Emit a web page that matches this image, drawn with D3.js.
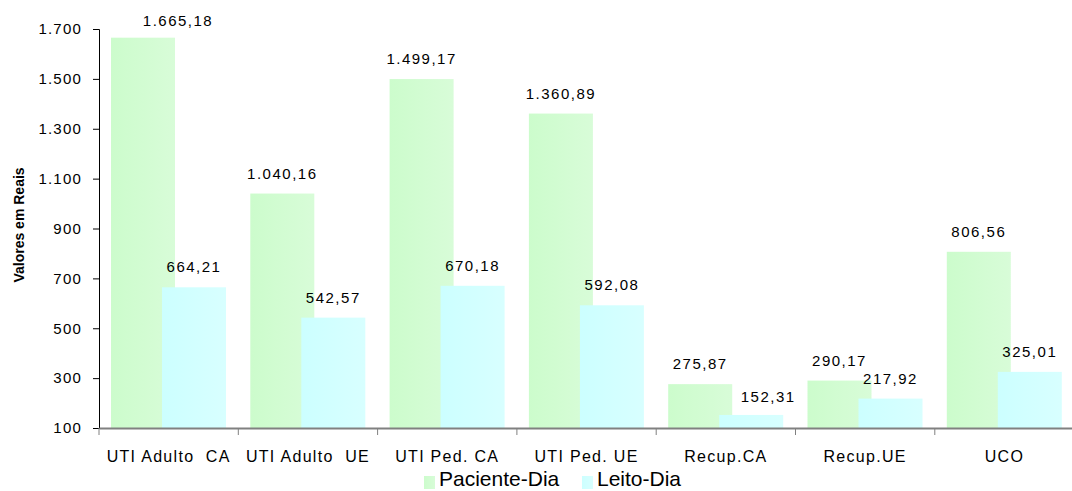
<!DOCTYPE html>
<html lang="pt">
<head>
    <meta charset="UTF-8">
    <title></title>
    <style>
        body { margin: 0; background: #fff; }
        text { font-family: "Liberation Sans", Arial, sans-serif; fill: #000; }
    </style>
</head>
<body>
<script src="https://cdn.jsdelivr.net/npm/d3@7/dist/d3.min.js"></script>
<script>
    var categories = ['UTI Adulto  CA', 'UTI Adulto  UE', 'UTI Ped. CA', 'UTI Ped. UE', 'Recup.CA', 'Recup.UE', 'UCO'];
    var pacienteDia = [1665.18, 1040.16, 1499.17, 1360.89, 275.87, 290.17, 806.56];
    var leitoDia = [664.21, 542.57, 670.18, 592.08, 152.31, 217.92, 325.01];
    var seriesNames = ['Paciente-Dia', 'Leito-Dia'];
    var yTicks = [100, 300, 500, 700, 900, 1100, 1300, 1500, 1700];

    var W = 1072, H = 491;
    var plotLeft = 99, plotTop = 29, plotBottom = 428;
    var band = 139.3;

    var br = d3.formatLocale({decimal: ',', thousands: '.', grouping: [3], currency: ['R$', '']});
    var fmtVal = br.format(',.2f');
    var fmtTick = br.format(',d');

    var svg = d3.select('body').append('svg')
            .attr('width', W)
            .attr('height', H);

    var defs = svg.append('defs');
    function grad(id, c0, c1) {
        var g = defs.append('linearGradient').attr('id', id)
                .attr('x1', '0%').attr('x2', '100%').attr('y1', '0%').attr('y2', '0%');
        g.append('stop').attr('offset', '0%').attr('stop-color', c0);
        g.append('stop').attr('offset', '100%').attr('stop-color', c1);
    }
    grad('gGreen', '#ccfccc', '#d8fcd8');
    grad('gCyan', '#ccffff', '#d8ffff');

    var x = d3.scaleBand().domain(categories).range([plotLeft, plotLeft + band * categories.length]);
    var y = d3.scaleLinear().domain([100, 1700]).range([plotBottom, plotTop]);

    var bw = x.bandwidth();
    var barW = bw * 64 / 139.3;
    var offG = bw * 12 / 139.3;
    var offC = bw * 63 / 139.3;

    // bars: green first, cyan on top (they overlap a bit)
    svg.append('g').selectAll('rect')
            .data(pacienteDia)
            .enter().append('rect')
            .attr('x', function (d, i) { return x(categories[i]) + offG; })
            .attr('y', function (d) { return y(d); })
            .attr('width', barW)
            .attr('height', function (d) { return y(100) - y(d); })
            .attr('fill', 'url(#gGreen)');

    svg.append('g').selectAll('rect')
            .data(leitoDia)
            .enter().append('rect')
            .attr('x', function (d, i) { return x(categories[i]) + offC; })
            .attr('y', function (d) { return y(d); })
            .attr('width', barW)
            .attr('height', function (d) { return y(100) - y(d); })
            .attr('fill', 'url(#gCyan)');

    // value labels (a couple are nudged like in the original)
    var nudgeG = {0: [35, 3]}, nudgeC = {4: [17, 2]};
    function labels(data, off, nudge) {
        svg.append('g').selectAll('text')
                .data(data)
                .enter().append('text')
                .attr('x', function (d, i) { return x(categories[i]) + off + barW / 2 + (nudge[i] ? nudge[i][0] : 0); })
                .attr('y', function (d, i) { return y(d) - 15 + (nudge[i] ? nudge[i][1] : 0); })
                .attr('text-anchor', 'middle')
                .style('font-size', '15px')
                .style('letter-spacing', '1.5px')
                .text(function (d) { return fmtVal(d); });
    }
    labels(pacienteDia, offG, nudgeG);
    labels(leitoDia, offC, nudgeC);

    // y axis
    var yAxis = svg.append('g')
            .attr('transform', 'translate(' + plotLeft + ',0)')
            .call(d3.axisLeft(y).tickValues(yTicks).tickSize(6).tickPadding(11).tickFormat(fmtTick));
    yAxis.select('.domain').attr('stroke', '#000');
    yAxis.selectAll('.tick line').attr('stroke', '#000');
    yAxis.selectAll('text')
            .style('font-size', '15px')
            .style('letter-spacing', '1.2px')
            .style('font-family', '"Liberation Sans", Arial, sans-serif');

    // x axis
    var xAxis = svg.append('g')
            .attr('transform', 'translate(0,' + plotBottom + ')')
            .call(d3.axisBottom(x).tickSize(0).tickPadding(23));
    xAxis.select('.domain').attr('stroke', '#808080').attr('stroke-width', 2);
    xAxis.selectAll('text')
            .attr('xml:space', 'preserve')
            .style('white-space', 'pre')
            .style('font-size', '16px')
            .style('letter-spacing', '1.3px')
            .style('font-family', '"Liberation Sans", Arial, sans-serif');
    xAxis.selectAll('line.sep')
            .data(categories)
            .enter().append('line')
            .attr('class', 'sep')
            .attr('x1', function (d) { return x(d); })
            .attr('x2', function (d) { return x(d); })
            .attr('y1', 0).attr('y2', 7)
            .attr('stroke', '#808080');

    // y axis title
    svg.append('text')
            .attr('transform', 'translate(24,225) rotate(-90)')
            .attr('text-anchor', 'middle')
            .style('font-size', '14px')
            .style('font-weight', 'bold')
            .text('Valores em Reais');

    // legend
    var legend = svg.append('g');
    var legendX = [424, 582];
    var legendFill = ['url(#gGreen)', 'url(#gCyan)'];
    seriesNames.forEach(function (name, i) {
        legend.append('rect')
                .attr('x', legendX[i]).attr('y', 476)
                .attr('width', 11).attr('height', 13)
                .attr('fill', legendFill[i]);
        legend.append('text')
                .attr('x', legendX[i] + 15).attr('y', 486)
                .style('font-size', '21px')
                .text(name);
    });
</script>
</body>
</html>
